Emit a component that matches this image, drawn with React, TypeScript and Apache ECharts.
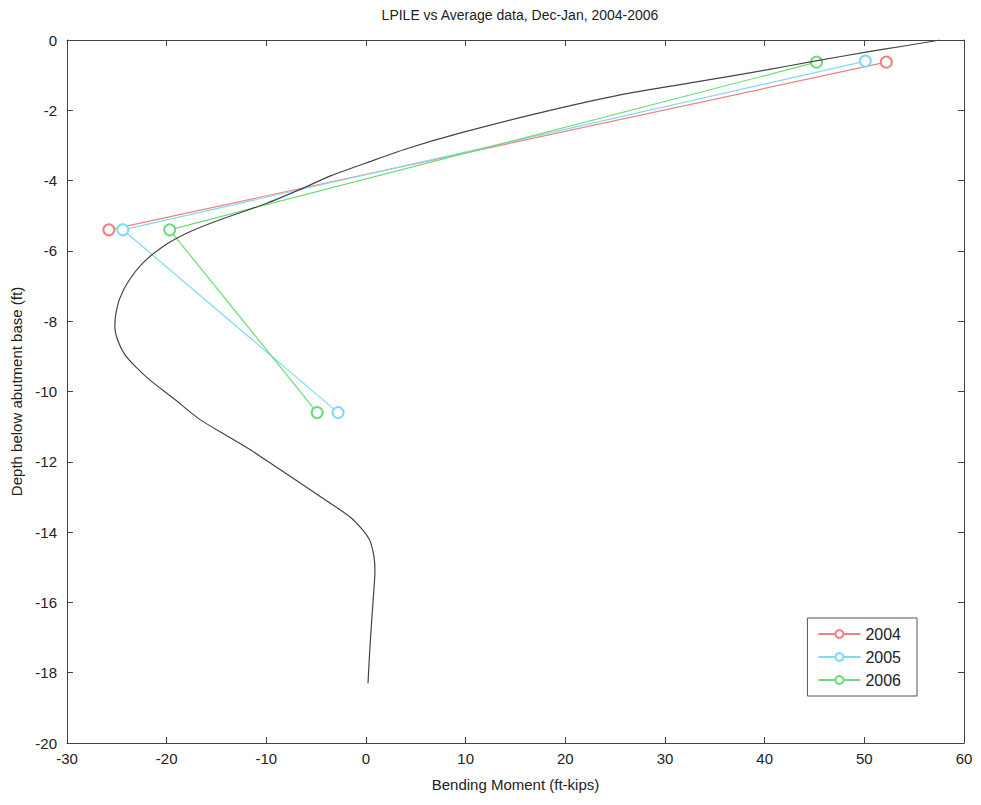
import React, { useEffect, useRef } from "react";
import * as echarts from "echarts";

const title = "LPILE vs Average data, Dec-Jan, 2004-2006";
const xName = "Bending Moment (ft-kips)";
const yName = "Depth below abutment base (ft)";

// [moment, depth]
const data2004: [number, number][] = [
  [52.2, -0.63],
  [-25.8, -5.4],
];
const data2005: [number, number][] = [
  [50.1, -0.6],
  [-24.4, -5.4],
  [-2.8, -10.6],
];
const data2006: [number, number][] = [
  [45.2, -0.63],
  [-19.7, -5.4],
  [-4.9, -10.6],
];
const lpile: [number, number][] = [
  [57.6, 0],
  [54, -0.17],
  [50.3, -0.34],
  [45, -0.6],
  [40.2, -0.85],
  [33, -1.2],
  [25.5, -1.56],
  [17, -2.1],
  [9.4, -2.65],
  [4, -3.1],
  [0, -3.5],
  [-3.5, -3.86],
  [-6.6, -4.25],
  [-10, -4.65],
  [-15, -5.15],
  [-18, -5.5],
  [-20.5, -5.9],
  [-22.4, -6.35],
  [-23.8, -6.85],
  [-24.7, -7.35],
  [-25.1, -7.8],
  [-25.2, -8.15],
  [-24.9, -8.55],
  [-24.2, -8.95],
  [-23.1, -9.3],
  [-21.7, -9.67],
  [-19.3, -10.2],
  [-16.65, -10.8],
  [-14, -11.25],
  [-11.6, -11.66],
  [-9, -12.15],
  [-6.6, -12.6],
  [-4, -13.1],
  [-1.6, -13.57],
  [-0.3, -13.95],
  [0.4, -14.25],
  [0.8, -14.7],
  [0.9, -15.1],
  [0.75, -15.8],
  [0.55, -16.6],
  [0.35, -17.5],
  [0.2, -18.3],
];

const FONT = "Liberation Sans, Arial, sans-serif";

export default function App() {
  const ref = useRef<HTMLDivElement>(null);
  useEffect(() => {
    if (!ref.current) return;
    const chart = echarts.init(ref.current, undefined, { renderer: "svg" });
    const axisLine = { show: true, onZero: false, lineStyle: { color: "#444", width: 1 } };
    const tick = { show: true, inside: true, length: 6, lineStyle: { color: "#444" } };
    const label = { color: "#222", fontSize: 15, fontFamily: FONT };
    chart.setOption({
      animation: false,
      backgroundColor: "#fff",
      title: {
        text: title,
        left: 515,
        top: 3,
        textAlign: "center",
        textStyle: { fontSize: 14, fontWeight: "normal", color: "#222", fontFamily: FONT },
      },
      grid: { left: 67, right: 17, top: 40, bottom: 62 },
      legend: {
        orient: "vertical",
        right: 64,
        top: 618,
        data: ["2004", "2005", "2006"],
        backgroundColor: "#fff",
        borderColor: "#555",
        borderWidth: 1,
        borderRadius: 0,
        padding: [8, 16, 8, 10],
        itemGap: 7,
        itemWidth: 42,
        itemHeight: 10,
        textStyle: { fontSize: 16, color: "#222", fontFamily: FONT },
      },
      xAxis: [
        {
          type: "value",
          min: -30,
          max: 60,
          interval: 10,
          name: xName,
          nameLocation: "middle",
          nameGap: 34,
          nameTextStyle: { fontSize: 15, color: "#222", fontFamily: FONT },
          axisLine,
          axisTick: tick,
          axisLabel: { ...label, margin: 8 },
          splitLine: { show: false },
        },
        {
          type: "value",
          position: "top",
          min: -30,
          max: 60,
          interval: 10,
          axisLine,
          axisTick: tick,
          axisLabel: { show: false },
          splitLine: { show: false },
        },
      ],
      yAxis: [
        {
          type: "value",
          min: -20,
          max: 0,
          interval: 2,
          name: yName,
          nameLocation: "middle",
          nameGap: 40,
          nameTextStyle: { fontSize: 15, color: "#222", fontFamily: FONT },
          axisLine,
          axisTick: tick,
          axisLabel: { ...label, margin: 10 },
          splitLine: { show: false },
        },
        {
          type: "value",
          position: "right",
          min: -20,
          max: 0,
          interval: 2,
          axisLine,
          axisTick: tick,
          axisLabel: { show: false },
          splitLine: { show: false },
        },
      ],
      series: [
        {
          name: "2004",
          type: "line",
          data: data2004,
          symbol: "emptyCircle",
          symbolSize: 11,
          lineStyle: { color: "#f28080", width: 1.2 },
          itemStyle: { color: "#f28080", borderWidth: 1.2 },
          z: 3,
        },
        {
          name: "2005",
          type: "line",
          data: data2005,
          symbol: "emptyCircle",
          symbolSize: 11,
          lineStyle: { color: "#80daf2", width: 1.2 },
          itemStyle: { color: "#80daf2", borderWidth: 1.2 },
          z: 3,
        },
        {
          name: "2006",
          type: "line",
          data: data2006,
          symbol: "emptyCircle",
          symbolSize: 11,
          lineStyle: { color: "#6cdc78", width: 1.2 },
          itemStyle: { color: "#6cdc78", borderWidth: 1.2 },
          z: 3,
        },
        {
          name: "LPILE",
          type: "line",
          data: lpile,
          symbol: "none",
          smooth: 0.25,
          lineStyle: { color: "#444", width: 1.2 },
          z: 4,
        },
      ],
    });
    return () => chart.dispose();
  }, []);
  return (
    <div
      ref={ref}
      style={{ position: "fixed", left: 0, top: 0, width: 981, height: 805 }}
    />
  );
}
